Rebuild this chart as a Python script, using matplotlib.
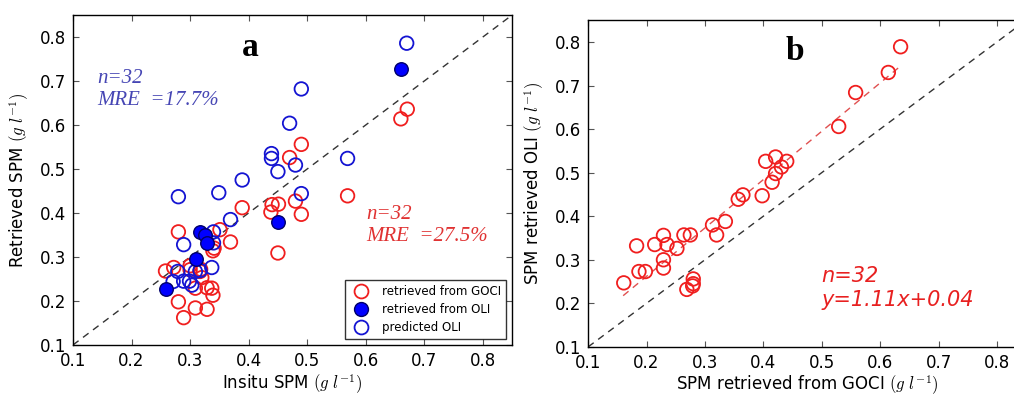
import matplotlib
matplotlib.use("Agg")
import matplotlib.pyplot as plt
from matplotlib.lines import Line2D
import numpy as np

plt.rcParams['font.family'] = ['DejaVu Sans']
plt.rcParams['mathtext.fontset'] = 'cm'

# ---------------- Panel a data ----------------
insitu_goci = [0.671, 0.660, 0.490, 0.470, 0.569, 0.480, 0.490, 0.440, 0.451, 0.438,
               0.450, 0.389, 0.351, 0.369, 0.280, 0.339, 0.258, 0.272, 0.300, 0.317,
               0.320, 0.309, 0.329, 0.337, 0.339, 0.280, 0.309, 0.329, 0.289, 0.300,
               0.341, 0.318]
goci_spm = [0.636, 0.614, 0.556, 0.526, 0.439, 0.427, 0.397, 0.419, 0.420, 0.402,
            0.309, 0.412, 0.362, 0.334, 0.357, 0.314, 0.268, 0.276, 0.271, 0.267,
            0.253, 0.229, 0.230, 0.229, 0.213, 0.198, 0.184, 0.181, 0.162, 0.280,
            0.320, 0.272]

insitu_oli = [0.660, 0.450, 0.317, 0.326, 0.329, 0.310, 0.259]
oli_spm = [0.728, 0.379, 0.357, 0.351, 0.332, 0.296, 0.227]

insitu_pred = [0.670, 0.490, 0.470, 0.439, 0.439, 0.480, 0.450, 0.569, 0.389, 0.349,
               0.280, 0.490, 0.369, 0.340, 0.340, 0.289, 0.337, 0.279, 0.271, 0.289,
               0.299, 0.303, 0.309, 0.317]
pred_oli = [0.786, 0.682, 0.604, 0.535, 0.524, 0.509, 0.494, 0.524, 0.475, 0.446,
            0.437, 0.444, 0.385, 0.357, 0.332, 0.328, 0.276, 0.267, 0.244, 0.245,
            0.245, 0.236, 0.267, 0.269]

# ---------------- Panel b data ----------------
goci_b = [0.635, 0.614, 0.558, 0.529, 0.404, 0.421, 0.440, 0.431, 0.421, 0.415,
          0.398, 0.365, 0.357, 0.335, 0.313, 0.320, 0.275, 0.264, 0.229, 0.214,
          0.235, 0.252, 0.183, 0.229, 0.229, 0.187, 0.198, 0.161, 0.280, 0.280,
          0.279, 0.269]
oli_b = [0.789, 0.730, 0.684, 0.606, 0.526, 0.536, 0.526, 0.513, 0.498, 0.478,
         0.447, 0.449, 0.439, 0.388, 0.380, 0.357, 0.357, 0.357, 0.356, 0.335,
         0.335, 0.326, 0.332, 0.300, 0.281, 0.273, 0.273, 0.247, 0.256, 0.245,
         0.240, 0.232]
fit_slope, fit_intercept = 1.11, 0.04
fit_range = [0.16, 0.636]

ticks = [0.1, 0.2, 0.3, 0.4, 0.5, 0.6, 0.7, 0.8]
lims = (0.1, 0.85)

RED = '#f01e1e'
BLUE = '#1414d2'

fig = plt.figure(figsize=(10.14, 3.96), dpi=100)
axa = fig.add_axes([0.072, 0.129, 0.433, 0.833])
axb = fig.add_axes([0.580, 0.124, 0.432, 0.825])

def style(ax):
    ax.set_xlim(*lims)
    ax.set_ylim(*lims)
    ax.set_xticks(ticks)
    ax.set_yticks(ticks)
    ax.tick_params(direction='in', top=True, right=True, length=4, labelsize=12,
                   pad=5, color='#555555')
    for s in ax.spines.values():
        s.set_linewidth(1.0)
    ax.plot(lims, lims, ls=(0, (5, 4)), color='#333333', lw=1.0, zorder=1)

style(axa)
style(axb)

ms = 95
axa.scatter(insitu_goci, goci_spm, s=ms, facecolors='none', edgecolors=RED, linewidths=1.3, zorder=3)
axa.scatter(insitu_pred, pred_oli, s=ms, facecolors='none', edgecolors=BLUE, linewidths=1.3, zorder=4)
axa.scatter(insitu_oli, oli_spm, s=ms, facecolors='#0000ff', edgecolors='#00006a', linewidths=1.0, zorder=5)

handles = [
    Line2D([], [], ls='none', marker='o', markersize=10, markerfacecolor='none', markeredgecolor=RED, markeredgewidth=1.3),
    Line2D([], [], ls='none', marker='o', markersize=10, markerfacecolor='#0000ff', markeredgecolor='#00006a'),
    Line2D([], [], ls='none', marker='o', markersize=10, markerfacecolor='none', markeredgecolor=BLUE, markeredgewidth=1.3),
]
leg = axa.legend(handles, ['retrieved from GOCI', 'retrieved from OLI', 'predicted OLI'],
                 loc='lower right', fontsize=8.5, frameon=True, fancybox=False,
                 borderaxespad=0.5, labelspacing=0.45, handletextpad=0.8, borderpad=0.4)
leg.get_frame().set_edgecolor('black')
leg.get_frame().set_linewidth(1.0)

axa.set_xlabel(r'Insitu SPM $(g\ l^{-1})$', fontsize=12, labelpad=2)
axa.set_ylabel(r'Retrieved SPM $(g\ l^{-1})$', fontsize=12, labelpad=6)

axa.text(0.403, 0.777, 'a', fontsize=24, fontweight='bold', family='Liberation Serif',
         ha='center', va='center')
axa.text(0.141, 0.728, 'n=32\nMRE  =17.7%', fontsize=15, style='italic',
         family='Liberation Serif', color='#4646b4', ha='left', va='top', linespacing=1.2)
axa.text(0.601, 0.418, 'n=32\nMRE  =27.5%', fontsize=15, style='italic',
         family='Liberation Serif', color='#e03232', ha='left', va='top', linespacing=1.2)

# Panel b
axb.scatter(goci_b, oli_b, s=ms, facecolors='none', edgecolors=RED, linewidths=1.3, zorder=3)
fx = np.array(fit_range)
axb.plot(fx, fit_slope * fx + fit_intercept, ls=(0, (5, 4)), color='#e05050', lw=1.0, zorder=2)
axb.set_xlabel(r'SPM retrieved from GOCI $(g\ l^{-1})$', fontsize=12, labelpad=1)
axb.set_ylabel(r'SPM retrieved OLI $(g\ l^{-1})$', fontsize=12, labelpad=6)
axb.text(0.454, 0.779, 'b', fontsize=24, fontweight='bold', family='Liberation Serif',
         ha='center', va='center')
axb.text(0.50, 0.285, 'n=32\ny=1.11x+0.04', fontsize=15, style='italic',
         color='#e82020', ha='left', va='top', linespacing=1.2)

fig.savefig('out.png', dpi=100)
